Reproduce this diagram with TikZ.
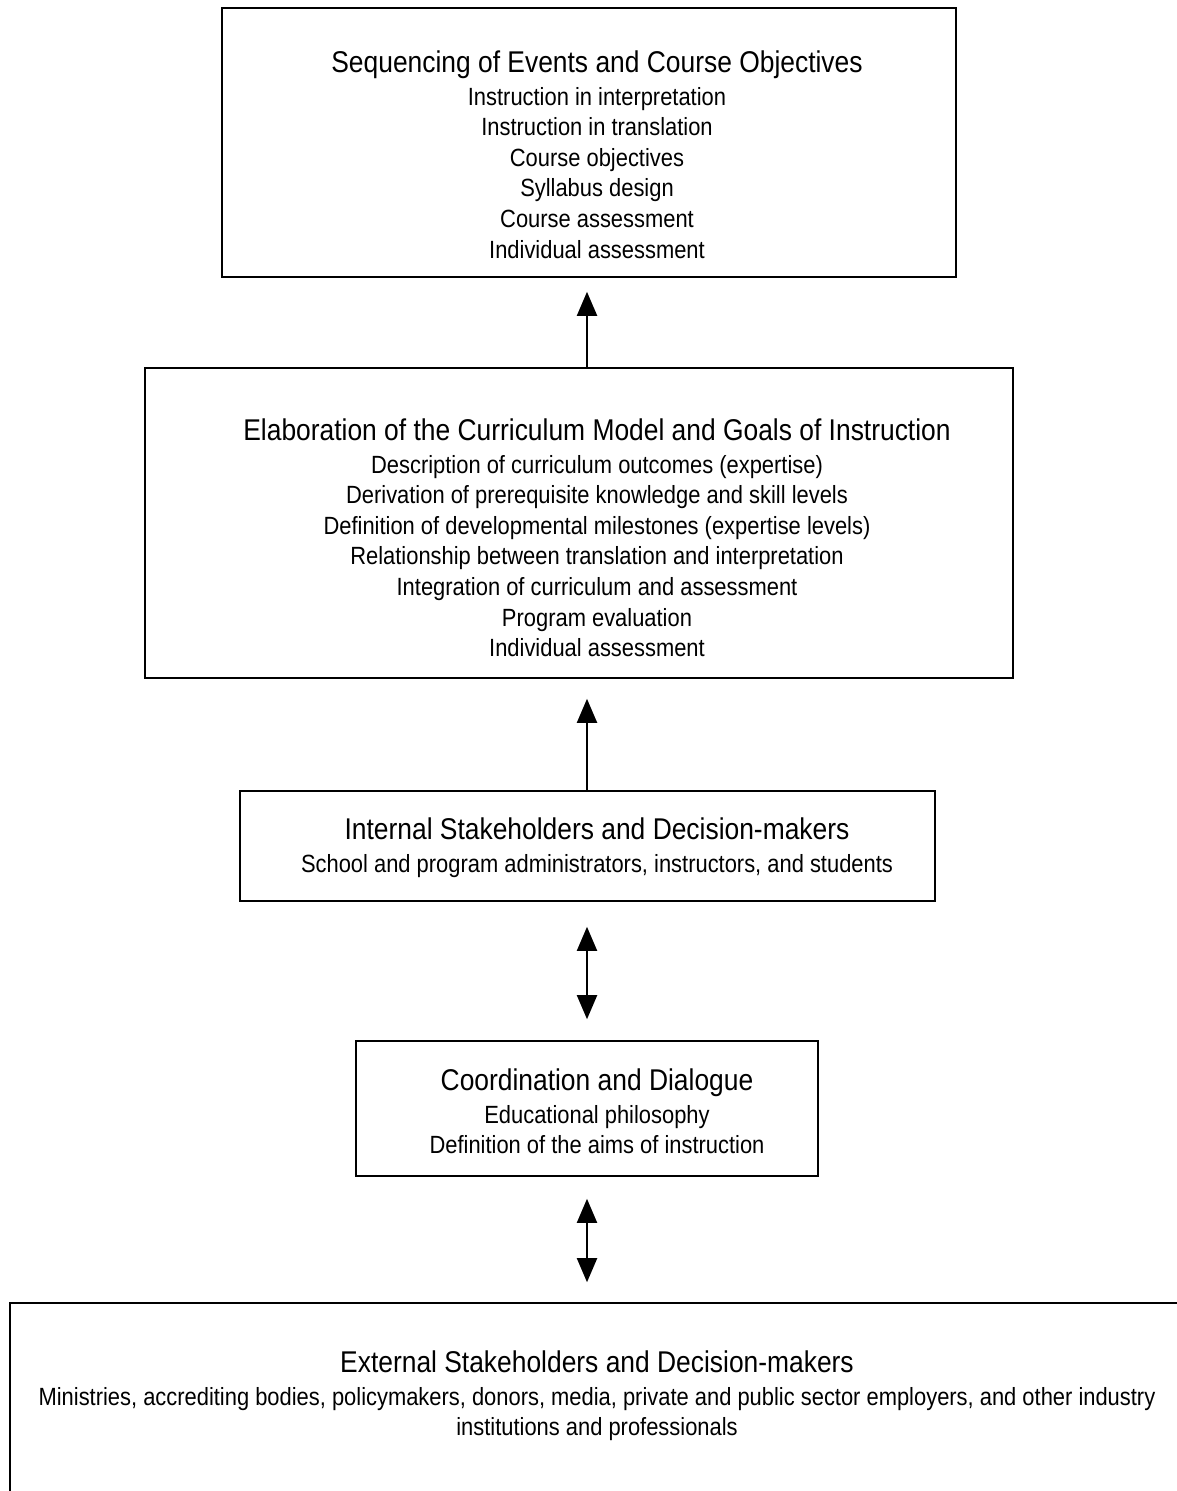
\documentclass[tikz,border=0pt]{standalone}
\usepackage{fontspec}
\setmainfont[FakeStretch=0.88]{Liberation Sans}
\usetikzlibrary{arrows.meta}
\begin{document}
\begin{tikzpicture}[x=1pt,y=-1pt,
  box/.style={draw=black,line width=1.6pt,rectangle,inner sep=0pt},
  txt/.style={align=center,inner sep=0pt,anchor=north,font=\fontsize{24.9}{30.6}\selectfont},
  arr/.style={line width=2pt,-{Triangle[width=20pt,length=24pt]}},
  darr/.style={line width=2pt,{Triangle[width=20pt,length=24pt]}-{Triangle[width=20pt,length=24pt]}}]
\clip (0,0) rectangle (1177,1491);
\fill[white] (0,0) rectangle (1177,1491);
\newcommand{\ttl}[1]{{\fontsize{30}{30}\selectfont #1}\\[2pt]}
% boxes
\node[box,minimum width=734pt,minimum height=269pt] (b1) at (589,142.5) {};
\node[box,minimum width=868pt,minimum height=310pt] (b2) at (579,523) {};
\node[box,minimum width=695pt,minimum height=110pt] (b3) at (587.5,846) {};
\node[box,minimum width=462pt,minimum height=135pt] (b4) at (587,1108.5) {};
\node[box,minimum width=1180pt,minimum height=217pt] (b5) at (600,1411.5) {};
% texts
\node[txt] (t1) at (597,50.5) {\ttl{Sequencing of Events and Course Objectives}
Instruction in interpretation\\ Instruction in translation\\ Course objectives\\ Syllabus design\\ Course assessment\\ Individual assessment};
\node[txt] (t2) at (597,418.5) {\ttl{Elaboration of the Curriculum Model and Goals of Instruction}
Description of curriculum outcomes (expertise)\\ Derivation of prerequisite knowledge and skill levels\\ Definition of developmental milestones (expertise levels)\\ Relationship between translation and interpretation\\ Integration of curriculum and assessment\\ Program evaluation\\ Individual assessment};
\node[txt] (t3) at (597,817.5) {\ttl{Internal Stakeholders and Decision-makers}
School and program administrators, instructors, and students};
\node[txt] (t4) at (597,1068.5) {\ttl{Coordination and Dialogue}
Educational philosophy\\ Definition of the aims of instruction};
\node[txt] (t5) at (597,1350.5) {\ttl{External Stakeholders and Decision-makers}
Ministries, accrediting bodies, policymakers, donors, media, private and public sector employers, and other industry\\ institutions and professionals};
% arrows
\coordinate (ax) at (587,0);
\draw[arr] (b2.north -| ax) -- ([yshift=-14pt]b1.south -| ax);
\draw[arr] (b3.north -| ax) -- ([yshift=-20pt]b2.south -| ax);
\draw[darr] ([yshift=-25pt]b3.south -| ax) -- ([yshift=21pt]b4.north -| ax);
\draw[darr] ([yshift=-22pt]b4.south -| ax) -- ([yshift=20pt]b5.north -| ax);
\end{tikzpicture}
\end{document}
